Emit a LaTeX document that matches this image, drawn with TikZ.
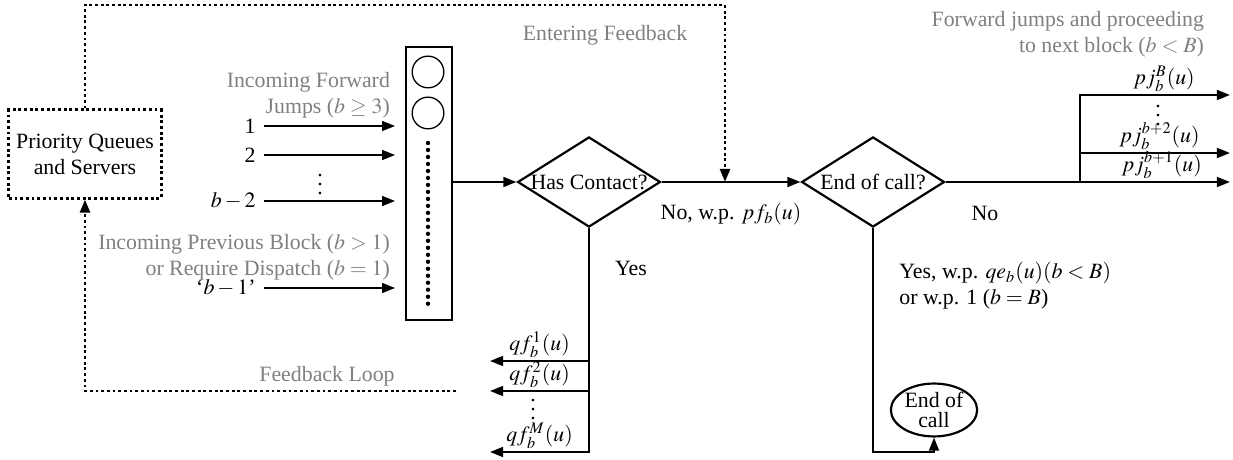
\documentclass[tikz,border=0pt]{standalone}
\usepackage{mathptmx}
\usepackage{fontspec}
\setmainfont{Liberation Serif}
\usetikzlibrary{shapes.geometric,arrows.meta}

\begin{document}
\begin{tikzpicture}[x=0.0161cm, y=-0.0161cm, line width=1pt, >={Triangle[length=6pt,width=4.5pt]}]
                    \tikzset{decision/.style={diamond, draw, inner sep=0pt, minimum width=2.30cm, minimum height=1.45cm},
                             feedback/.style={line width=1.3pt, dash pattern=on 1.3pt off 1.3pt},
                             slots/.style={line width=2pt, line cap=round, dash pattern=on 0pt off 3.2pt},
                             note/.style={text=gray, inner sep=0pt, align=right},
                             lab/.style={inner sep=1pt},
                             more/.style={inner sep=0pt, font=\boldmath}}
                    \useasboundingbox (0,0) rectangle (1233,460);
                    % servers and the feedback loop
                    \node[draw, feedback, align=center, minimum width=2.42cm, minimum height=1.42cm] (pq) at (85,154) {Priority Queues\\and Servers};
                    \coordinate (fbtop) at (725,5);
                    \coordinate (fbin) at (725,182);
                    \coordinate (fbout) at (456,391);
                    \draw[feedback, ->] (pq.north) |- (fbtop) -- (fbin);
                    \draw[feedback, ->] (fbout) -| (pq.south);
                    \node[note] (entering) at (605,35) {Entering Feedback};
                    \node[note] (loop) at (327,376) {Feedback Loop};
                    % the block queue
                    \node[draw, inner sep=0pt, minimum width=0.74cm, minimum height=4.40cm] (queue) at (429,183.5) {};
                    \node[draw, circle, line width=0.6pt, minimum size=0.51cm] (slot1) at (428,72) {};
                    \node[draw, circle, line width=0.6pt, minimum size=0.51cm] (slot2) at (428,113) {};
                    \draw[slots] (428,143) -- (428,310);
                    % incoming
                    \node[note] (fwdnote) at (391,95) [anchor=east] {Incoming Forward\\Jumps ($b\geq 3$)};
                    \node[note] (prevnote) at (391,257) [anchor=east] {Incoming Previous Block ($b>1$)\\or Require Dispatch ($b=1$)};
                    \node[anchor=east] (in1) at (264,126) {1};
                    \node[anchor=east] (in2) at (264,155) {2};
                    \node[more] (indots) at (320,178) {$\vdots$};
                    \node[anchor=east] (inb2) at (264,201) {$b-2$};
                    \node[anchor=east] (inb1) at (264,288) {`$b-1$'};
                    \foreach \n in {in1,in2,inb2,inb1}
                        \draw[->, shorten >=4.5pt] (\n.east) -- (\n.east -| queue.west);
                    % decisions
                    \node[decision] (hc) at (589,182) {\makebox[0pt]{Has Contact?}};
                    \node[decision] (eoc) at (873,182) {\makebox[0pt]{End of call?}};
                    \draw[->] (queue.east |- hc.west) -- (hc.west);
                    \draw[->] (hc.east) -- (eoc.west) node[midway, below=6pt] {No, w.p. $pf_b(u)$};
                    % has contact: yes
                    \node (yes) at (631,268) {Yes};
                    \coordinate (qf1) at (490,361);
                    \coordinate (qf2) at (490,391);
                    \coordinate (qfM) at (490,452);
                    \draw[->] (hc.south) |- (qfM) node[pos=0.75, above, lab] {$qf_b^M(u)$};
                    \draw[->] (hc.south |- qf1) -- (qf1) node[midway, above, lab] {$qf_b^1(u)$};
                    \draw[->] (hc.south |- qf2) -- (qf2) node[midway, above, lab] {$qf_b^2(u)$};
                    \node[more] (qfdots) at (533,403) {$\vdots$};
                    % end of call: yes
                    \node[draw, ellipse, inner sep=0.5pt, align=center, minimum width=1.35cm, minimum height=0.73cm] (ec) at (934,410) {End of\\[-3pt]call};
                    \node[anchor=west, align=left] (yesnote) at (891,286) {Yes, w.p. $qe_b(u)(b<B)$\\or w.p. 1 ($b=B$)};
                    \coordinate (ecturn) at (873,452);
                    \draw[->] (eoc.south) -- (ecturn) -| (ec.south);
                    % end of call: no
                    \node (no) at (985,213) {No};
                    \node[note] (fwdout) at (1205,34) [anchor=east] {Forward jumps and proceeding\\to next block ($b<B$)};
                    \coordinate (pjsplit) at (1080,182);
                    \coordinate (pj1) at (1230,182);
                    \coordinate (pj2) at (1230,153);
                    \coordinate (pjB) at (1230,95);
                    \draw[->] (eoc.east) -- (pj1) node[pos=0.76, above, lab] {$pj_b^{b+1}(u)$};
                    \draw[->] (pjsplit |- pj2) -- (pj2) node[pos=0.53, above, lab] {$pj_b^{b+2}(u)$};
                    \draw[->] (pjsplit) |- (pjB) node[pos=0.78, above, lab] {$pj_b^B(u)$};
                    \node[more] (pjdots) at (1158,109) {$\vdots$};
                \end{tikzpicture}
\end{document}
